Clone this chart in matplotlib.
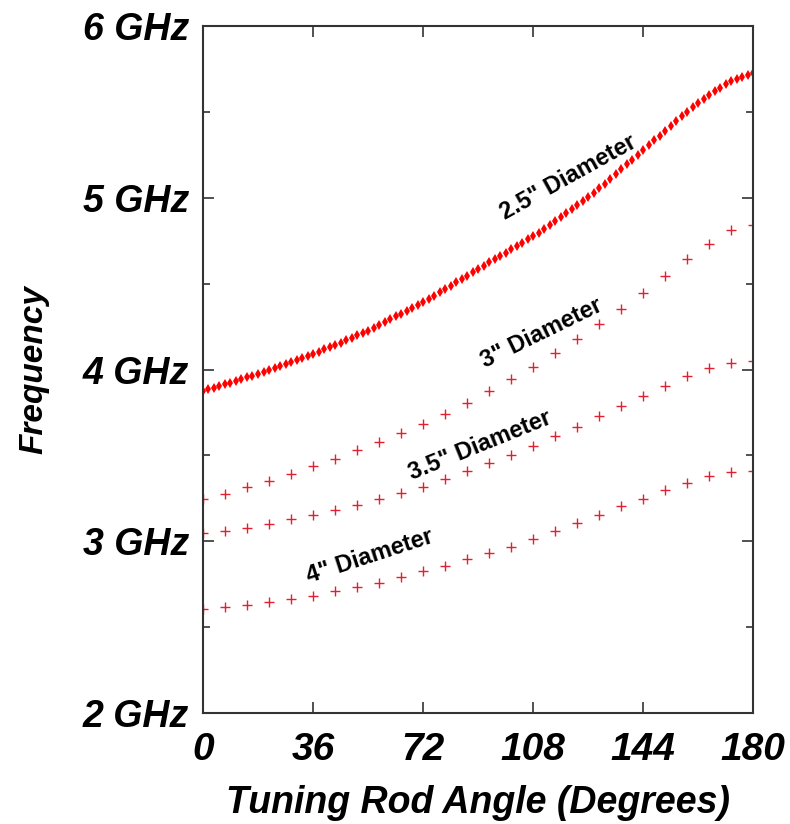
import matplotlib
matplotlib.use("Agg")
import matplotlib.pyplot as plt
from matplotlib.ticker import MultipleLocator

# 2.5" diameter sweep: dense points every 1.8 degrees
angle_fine = [1.8 * i for i in range(101)]
freq_25 = [3.874, 3.884, 3.894, 3.904, 3.914, 3.924, 3.934, 3.944, 3.954, 3.964,
           3.973, 3.983, 3.995, 4.006, 4.018, 4.030, 4.041, 4.053, 4.065, 4.076,
           4.090, 4.103, 4.117, 4.130, 4.144, 4.157, 4.171, 4.184, 4.198, 4.211,
           4.225, 4.242, 4.258, 4.275, 4.292, 4.309, 4.326, 4.343, 4.360, 4.377,
           4.394, 4.411, 4.430, 4.449, 4.469, 4.488, 4.507, 4.526, 4.546, 4.565,
           4.584, 4.603, 4.623, 4.642, 4.661, 4.680, 4.700, 4.719, 4.738, 4.757,
           4.777, 4.796, 4.820, 4.843, 4.866, 4.890, 4.913, 4.937, 4.960, 4.983,
           5.007, 5.030, 5.054, 5.082, 5.110, 5.138, 5.166, 5.194, 5.222, 5.250,
           5.278, 5.306, 5.334, 5.362, 5.390, 5.418, 5.446, 5.474, 5.502, 5.528,
           5.553, 5.577, 5.600, 5.621, 5.640, 5.660, 5.677, 5.692, 5.705, 5.716,
           5.724]

# other diameters: points every 7.2 degrees
angle_coarse = [7.2 * i for i in range(26)]
freq_3 = [3.244, 3.277, 3.316, 3.351, 3.391, 3.436, 3.478, 3.529, 3.578, 3.630,
          3.684, 3.740, 3.804, 3.876, 3.942, 4.017, 4.098, 4.176, 4.267, 4.355,
          4.446, 4.547, 4.645, 4.733, 4.810, 4.841]
freq_35 = [3.048, 3.062, 3.077, 3.101, 3.128, 3.154, 3.180, 3.213, 3.244, 3.283,
           3.318, 3.360, 3.407, 3.453, 3.502, 3.556, 3.610, 3.667, 3.727, 3.785,
           3.845, 3.905, 3.963, 4.008, 4.037, 4.047]
freq_4 = [2.605, 2.615, 2.630, 2.645, 2.665, 2.684, 2.711, 2.733, 2.758, 2.791,
          2.826, 2.856, 2.894, 2.932, 2.969, 3.012, 3.060, 3.109, 3.151, 3.205,
          3.248, 3.297, 3.339, 3.378, 3.405, 3.409]

x_ticks = [0, 36, 72, 108, 144, 180]
y_ticks = [2, 3, 4, 5, 6]
y_labels = ["2 GHz", "3 GHz", "4 GHz", "5 GHz", "6 GHz"]

# label text, position (deg, GHz), rotation
labels = [('2.5" Diameter', 119.5, 5.12, 29),
          ('3" Diameter', 110.9, 4.21, 26),
          ('3.5" Diameter', 90.7, 3.56, 22),
          ('4" Diameter', 54.7, 2.91, 18)]

plt.rcParams['font.family'] = ['Liberation Sans', 'DejaVu Sans']

fig = plt.figure(figsize=(7.9, 8.24), dpi=100)
ax = fig.add_axes([203 / 790, 1 - 713 / 824, 550 / 790, 687 / 824])

ax.plot(angle_fine, freq_25, linestyle='none', marker='d', markersize=5.5,
        color='#ff0000', markeredgewidth=0)
for f in (freq_3, freq_35, freq_4):
    ax.plot(angle_coarse, f, linestyle='none', marker='+', markersize=7,
            markeredgewidth=1.0, color='#e3202f')

for text, x, y, rot in labels:
    ax.text(x, y, text, rotation=rot, ha='center', va='center',
            fontsize=17, fontweight='bold', rotation_mode='anchor')

ax.set_xlim(0, 180)
ax.set_ylim(2, 6)
ax.set_xticks(x_ticks)
ax.set_yticks(y_ticks)
ax.set_yticklabels(y_labels)
ax.yaxis.set_minor_locator(MultipleLocator(0.5))

ax.tick_params(which='both', direction='in', top=True, right=True,
               color='#333333', width=1.2)
ax.tick_params(which='major', length=8)
ax.tick_params(which='minor', length=5)
ax.tick_params(axis='y', pad=10)
ax.tick_params(axis='x', pad=14)
for lab in ax.get_xticklabels():
    lab.set_fontsize(28)
    lab.set_fontweight('bold')
    lab.set_fontstyle('italic')
for lab in ax.get_yticklabels():
    lab.set_fontsize(27)
    lab.set_fontweight('bold')
    lab.set_fontstyle('italic')

for sp in ax.spines.values():
    sp.set_color('#333333')
    sp.set_linewidth(1.5)

ax.set_xlabel('Tuning Rod Angle (Degrees)', fontsize=27, fontweight='bold',
              fontstyle='italic', labelpad=12)
ax.set_ylabel('Frequency', fontsize=24, fontweight='bold', fontstyle='italic',
              labelpad=24)

fig.savefig('out.png', dpi=100)
